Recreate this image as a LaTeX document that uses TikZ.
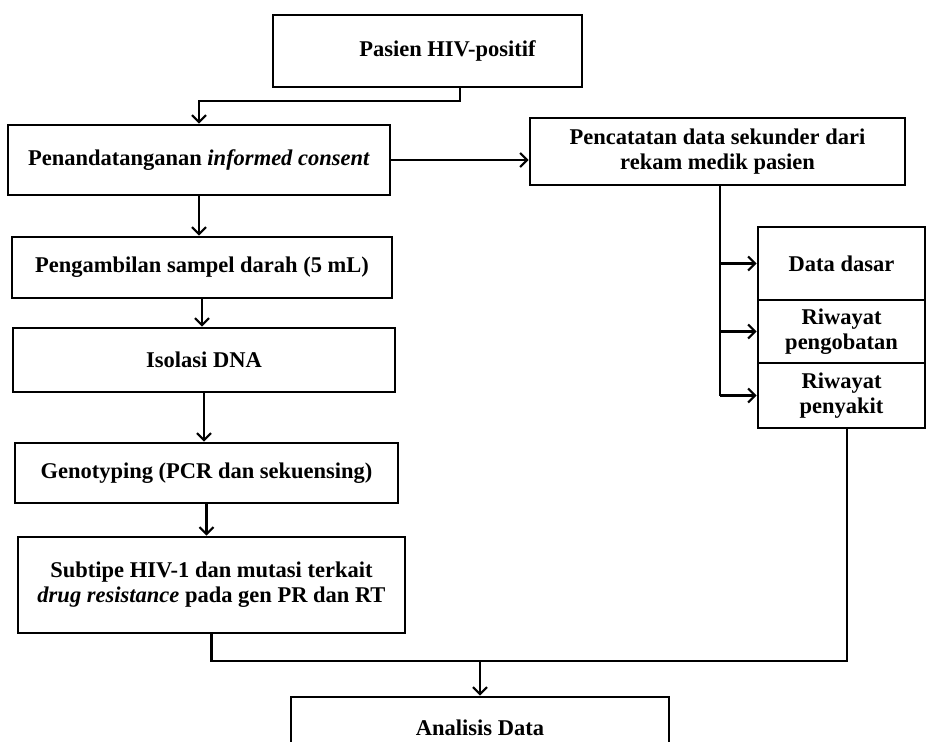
\documentclass[tikz,border=0pt]{standalone}
\usepackage{fontspec}
\setmainfont{Liberation Serif}
\usetikzlibrary{arrows.meta}
\begin{document}
\begin{tikzpicture}[x=1pt,y=-1pt,
  box/.style={draw, line width=2.6pt, align=center, inner sep=2pt,
    font=\fontsize{22.5}{25}\selectfont\bfseries},
  conn/.style={line width=2.2pt},
  arr/.style={conn, -{Straight Barb[length=7pt,width=14pt]}}]
\useasboundingbox (0,0) rectangle (927,742);
\node[box, minimum width=309, minimum height=72] (b1) at (427.5,51) {\hspace*{40pt}Pasien HIV-positif};
\node[box, minimum width=382, minimum height=70] (b2) at (199,160) {Penandatanganan \textit{informed consent}};
\node[box, minimum width=375, minimum height=67] (b3) at (717.5,151.5) {Pencatatan data sekunder dari\\rekam medik pasien};
\node[box, minimum width=380, minimum height=61] (b4) at (202,267.5) {Pengambilan sampel darah (5 mL)};
\node[box, minimum width=382, minimum height=64] (b5) at (204,360) {Isolasi DNA};
\node[box, minimum width=383, minimum height=60] (b6) at (206.5,473) {Genotyping (PCR dan sekuensing)};
\node[box, minimum width=387, minimum height=96] (b7) at (211.5,585) {Subtipe HIV-1 dan mutasi terkait\\\textit{drug resistance} pada gen PR dan RT};
\node[box, minimum width=378, minimum height=62] (b8) at (480,728) {Analisis Data};
\node[box, minimum width=167, minimum height=73] (r1) at (841.5,263.5) {Data dasar};
\node[box, minimum width=167, minimum height=63] (r2) at (841.5,331.5) {Riwayat\\pengobatan};
\node[box, minimum width=167, minimum height=65] (r3) at (841.5,395.5) {Riwayat\\penyakit};
% connectors
\draw[arr] ([xshift=32.5pt]b1.south) -- ++(0,13) -| (b2.north);
\draw[arr] (b2.east) -- (b2.east -| b3.west);
\draw[arr] (b2.south) -- (b2.south |- b4.north);
\draw[arr] (b4.south) -- (b4.south |- b5.north);
\draw[arr] (b5.south) -- (b5.south |- b6.north);
\draw[arr] (b6.south) -- (b6.south |- b7.north);
\coordinate (sp) at ([xshift=2.5pt]b3.south);
\draw[conn] (sp) -- (sp |- r3.west);
\draw[arr] (sp |- r1.west) -- (r1.west);
\draw[arr] (sp |- r2.west) -- (r2.west);
\draw[arr] (sp |- r3.west) -- (r3.west);
\coordinate (jn) at ([yshift=-27pt]b7.south);
\coordinate (rs) at ([xshift=5.5pt]r3.south);
\draw[conn] (b7.south) -- (jn) -| (rs);
\draw[arr] (jn -| b8.north) -- (b8.north);
\end{tikzpicture}
\end{document}
